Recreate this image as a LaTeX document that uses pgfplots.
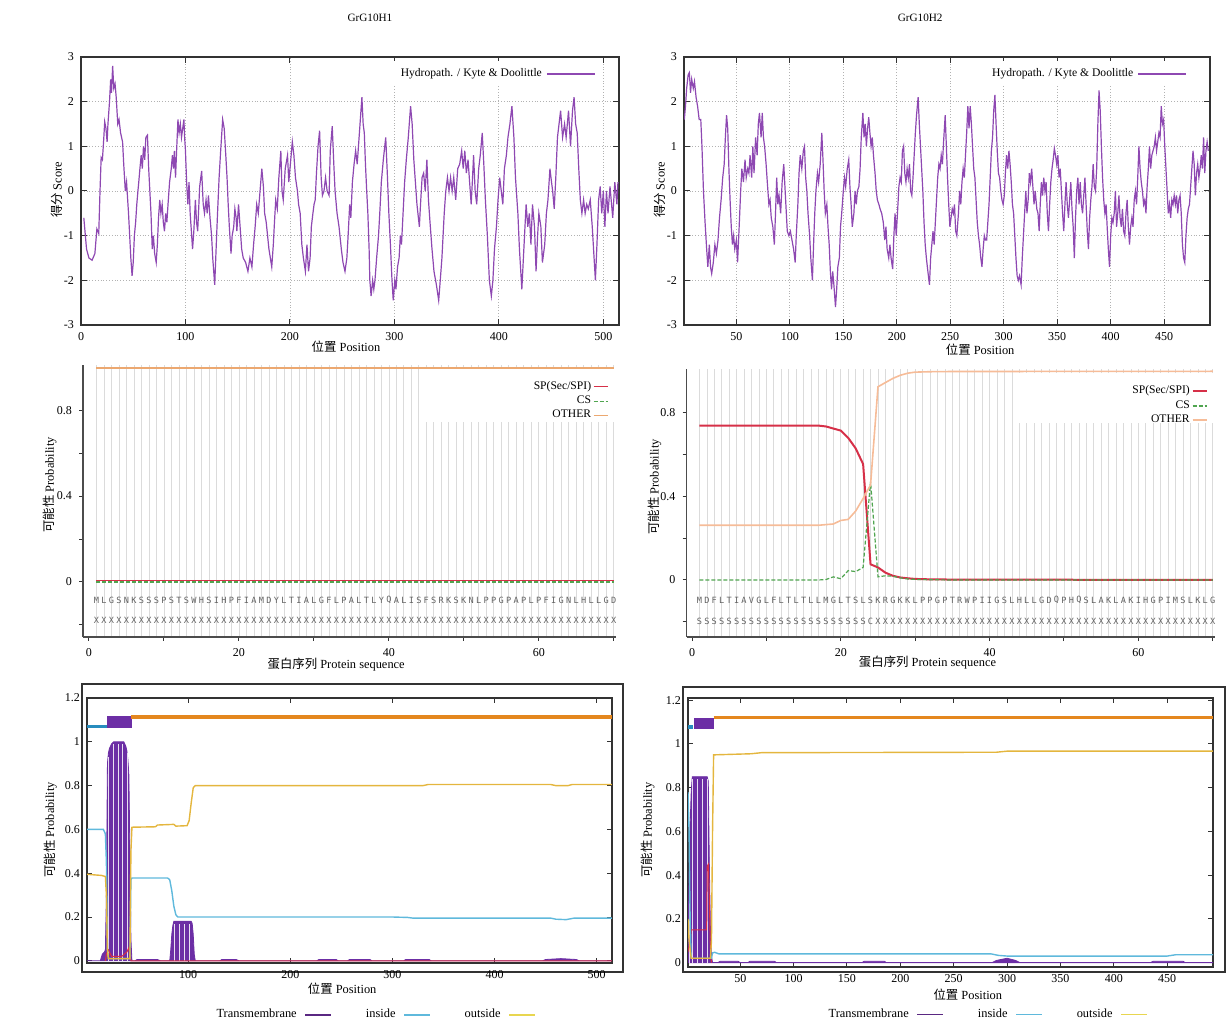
\documentclass[border=0pt]{standalone}
\usepackage{fontspec}
\setmainfont{Liberation Serif}
\newfontfamily\cjk{Noto Sans CJK SC}
\newfontfamily\seqfont{DejaVu Sans Mono}
\usepackage{pgfplots}
\usepackage{pgfplotstable}
\pgfplotsset{compat=1.18}
\definecolor{hydro}{RGB}{142,72,178}
\definecolor{spred}{RGB}{214,48,72}
\definecolor{csgreen}{RGB}{80,165,80}
\definecolor{otherL}{RGB}{236,168,112}
\definecolor{otherR}{RGB}{246,188,152}
\definecolor{tmfill}{RGB}{108,46,165}
\definecolor{tmleg}{RGB}{90,40,130}
\definecolor{incurve}{RGB}{95,185,220}
\definecolor{inbar}{RGB}{40,140,190}
\definecolor{outcurve}{RGB}{228,182,62}
\definecolor{outbar}{RGB}{228,135,30}
\definecolor{outleg}{RGB}{232,214,80}

\pgfplotstableread[row sep=\\]{x s r\\1 M X\\2 L X\\3 G X\\4 S X\\5 N X\\6 K X\\7 S X\\8 S X\\9 S X\\10 P X\\11 S X\\12 T X\\13 S X\\14 W X\\15 H X\\16 S X\\17 I X\\18 H X\\19 P X\\20 F X\\21 I X\\22 A X\\23 M X\\24 D X\\25 Y X\\26 L X\\27 T X\\28 I X\\29 A X\\30 L X\\31 G X\\32 F X\\33 L X\\34 P X\\35 A X\\36 L X\\37 T X\\38 L X\\39 Y X\\40 Q X\\41 A X\\42 L X\\43 I X\\44 S X\\45 F X\\46 S X\\47 R X\\48 K X\\49 S X\\50 K X\\51 N X\\52 L X\\53 P X\\54 P X\\55 G X\\56 P X\\57 A X\\58 P X\\59 L X\\60 P X\\61 F X\\62 I X\\63 G X\\64 N X\\65 L X\\66 H X\\67 L X\\68 L X\\69 G X\\70 D X\\}\seqL
\pgfplotstableread[row sep=\\]{x s r\\1 M S\\2 D S\\3 F S\\4 L S\\5 T S\\6 I S\\7 A S\\8 V S\\9 G S\\10 L S\\11 F S\\12 L S\\13 T S\\14 L S\\15 T S\\16 L S\\17 L S\\18 M S\\19 G S\\20 L S\\21 T S\\22 S S\\23 L S\\24 S C\\25 K X\\26 R X\\27 G X\\28 K X\\29 K X\\30 L X\\31 P X\\32 P X\\33 G X\\34 P X\\35 T X\\36 R X\\37 W X\\38 P X\\39 I X\\40 I X\\41 G X\\42 S X\\43 L X\\44 H X\\45 L X\\46 L X\\47 G X\\48 D X\\49 Q X\\50 P X\\51 H X\\52 Q X\\53 S X\\54 L X\\55 A X\\56 K X\\57 L X\\58 A X\\59 K X\\60 I X\\61 H X\\62 G X\\63 P X\\64 I X\\65 M X\\66 S X\\67 L X\\68 K X\\69 L X\\70 G X\\}\seqR

\pgfplotsset{
  base/.style={scale only axis, anchor=north west,
    /pgf/number format/assume math mode=true,
    tick label style={font=\fontsize{6}{7}\selectfont},
    label style={font=\fontsize{6.2}{7}\selectfont},
    axis line style={line width=0.7pt, black!80},
    every tick/.style={black!80, line width=0.5pt},
  },
  hydrop/.style={base, ymin=-3, ymax=3, ytick={-3,-2,-1,0,1,2,3},
    grid=major, grid style={densely dotted, gray!60, line width=0.4pt},
    major tick length=3pt,
    title style={anchor=center, font=\fontsize{5.6}{6}\selectfont},
    legend plot pos=right,
    legend image code/.code={\draw[#1, line width=0.9pt] (0pt,0pt) -- (24pt,0pt);},
    legend style={draw=none, fill=white, font=\fontsize{5.8}{7}\selectfont, anchor=north east, inner sep=1.5pt},
  },
  seqnodes/.style={only marks, mark=none, forget plot, nodes near coords, point meta=explicit symbolic,
    every node near coord/.style={font=\seqfont\fontsize{4.3}{4.5}\selectfont, text=black!62, anchor=center, inner sep=0pt}},
  signalp/.style={base, axis lines=left, axis line style={-, line width=0.6pt, black!70},
    tick align=outside, major tick length=2pt,
    xtick={0,10,20,30,40,50,60,70}, xticklabels={0,,20,,40,,60,},
    ytick={-0.2,0,0.2,0.4,0.6,0.8}, yticklabels={,0,,0.4,,0.8},
    minor xtick={1,2,...,70}, minor tick length=0pt,
    xminorgrids=true, minor grid style={gray!28, line width=0.35pt},
    legend plot pos=right, legend cell align=right,
    legend image code/.code={\draw[#1] (0pt,0pt) -- (7pt,0pt);},
    legend style={draw=none, fill=none, font=\fontsize{5.8}{6}\selectfont, anchor=north east, nodes={inner sep=0.9pt}},
  },
  tmhmm/.style={base, ytick={0,0.2,0.4,0.6,0.8,1,1.2}, major tick length=2.5pt,
    axis line style={line width=0.8pt, black!80},
    legend columns=3, legend plot pos=right,
    legend image code/.code={\draw[#1, line width=0.6pt] (0pt,0pt) -- (13pt,0pt);},
    legend style={draw=none, fill=none, anchor=center, font=\fontsize{6.2}{7}\selectfont,
      /tikz/every odd column/.append style={column sep=2pt},
      /tikz/every even column/.append style={column sep=15pt}},
  },
}

\begin{document}
\begin{tikzpicture}
\path[use as bounding box] (0pt,0pt) rectangle (614pt,-511pt);

% ---------- top left: hydropathy GrG10H1
\begin{axis}[hydrop, at={(40.5pt,-28.5pt)}, width=269pt, height=134pt,
  xmin=0, xmax=515, xtick={0,100,200,300,400,500},
  title={GrG10H1}, title style={at={(axis description cs:0.537,1)}, yshift=13.5pt},
  xlabel={{\cjk 位置} Position}, xlabel style={at={(axis description cs:0.4926,-0.08)}, anchor=center},
  ylabel={{\cjk 得分} Score}, ylabel style={at={(axis description cs:-0.0446,0.504)}, anchor=center},
  legend style={at={(axis description cs:0.963,0.985)}}]
\addplot[hydro, line width=0.6pt] coordinates {(2.7,-0.6)(5.3,-1.3)(7.6,-1.5)(10.6,-1.55)(13.3,-1.4)(15.2,-0.85)(17.0,-0.95)(18.2,0.0)(19.3,0.75)(20.5,0.7)(21.6,1.1)(22.7,1.55)(23.9,1.4)(25.0,1.1)(25.8,1.5)(27.3,2.0)(28.4,2.5)(29.2,2.2)(30.3,2.8)(31.4,2.3)(32.6,2.4)(33.7,2.1)(35.2,1.5)(36.4,1.6)(37.9,1.3)(39.8,1.1)(40.9,0.6)(42.4,0.0)(43.6,0.2)(45.5,-0.5)(46.6,-1.0)(47.7,-1.5)(48.9,-1.9)(50.0,-1.6)(51.1,-1.0)(52.3,-0.7)(53.4,-0.3)(54.5,0.0)(55.3,0.2)(56.4,0.5)(57.6,0.8)(58.7,0.5)(59.8,1.0)(61.0,0.7)(62.1,1.2)(63.6,1.25)(64.8,0.5)(65.9,0.0)(67.0,-0.5)(68.2,-1.3)(69.3,-1.0)(70.5,-1.4)(72.0,-1.6)(73.1,-1.2)(74.2,-0.6)(75.4,-0.2)(76.5,-0.5)(77.7,-0.3)(78.8,-0.7)(79.9,-0.9)(81.1,-0.5)(82.2,-0.7)(83.3,-0.3)(84.8,0.2)(86.4,0.5)(87.5,0.8)(88.6,0.5)(89.4,0.9)(90.5,0.3)(91.7,1.0)(92.8,1.6)(93.9,1.3)(95.1,1.5)(96.2,1.2)(98.5,1.6)(99.2,1.2)(100.0,0.9)(101.1,0.2)(102.3,-0.3)(103.4,0.2)(104.5,-0.5)(106.8,-1.3)(108.0,-0.9)(109.5,-0.2)(110.6,-0.7)(111.7,-0.9)(113.6,0.1)(115.5,0.45)(117.0,-0.3)(118.2,-0.5)(119.7,-0.2)(120.8,-0.5)(122.0,-0.1)(123.5,-0.6)(125.0,-1.0)(126.1,-1.5)(128.0,-2.1)(129.5,-1.2)(130.7,-0.5)(132.2,0.3)(133.7,0.9)(135.6,1.6)(137.1,1.4)(138.6,0.8)(139.8,0.3)(140.9,-0.3)(142.0,-0.8)(143.6,-1.4)(144.7,-1.0)(146.2,-0.8)(147.3,-0.4)(148.5,-0.6)(149.2,-0.9)(150.8,-0.3)(152.3,-0.8)(153.8,-1.3)(155.3,-1.5)(157.6,-1.6)(159.8,-1.8)(161.7,-1.5)(163.6,-1.7)(165.2,-1.2)(166.7,-0.8)(168.2,-0.3)(169.7,-0.5)(173.1,0.5)(174.6,0.1)(175.8,-0.5)(177.3,-0.7)(179.9,-1.3)(182.6,-1.7)(184.1,-1.2)(185.2,-0.7)(186.4,-0.2)(187.9,-0.4)(189.4,0.3)(191.3,0.9)(192.4,0.0)(193.6,-0.2)(195.5,0.5)(197.7,0.8)(198.9,0.2)(202.3,1.1)(203.8,0.8)(205.3,0.3)(207.2,0.0)(208.3,-0.3)(209.8,-0.5)(211.4,-1.2)(212.9,-1.5)(214.8,-1.8)(216.3,-1.2)(217.8,-1.8)(219.3,-1.5)(220.5,-0.8)(222.0,-0.5)(223.1,-0.3)(224.2,-0.2)(225.4,0.4)(226.9,1.0)(228.4,1.35)(229.9,0.3)(231.1,-0.1)(232.6,0.0)(234.1,0.3)(235.6,0.0)(237.5,-0.1)(238.6,0.9)(240.5,1.45)(242.0,0.6)(243.2,0.0)(245.1,-0.5)(247.0,-0.8)(249.2,-1.3)(250.8,-1.6)(252.7,-1.8)(254.5,-1.5)(255.7,-1.0)(257.2,-0.3)(258.3,-0.6)(259.8,0.2)(261.4,0.6)(262.9,0.9)(264.4,0.6)(265.9,1.1)(267.4,1.6)(268.9,2.1)(270.1,1.5)(271.2,1.3)(272.3,0.6)(273.5,0.0)(274.6,-0.5)(275.8,-1.3)(276.5,-2.0)(277.7,-2.35)(279.2,-2.0)(280.3,-2.2)(281.4,-2.0)(283.0,-1.5)(284.8,-1.0)(286.0,-0.5)(287.5,0.2)(289.4,0.7)(291.7,1.2)(293.2,0.4)(294.7,-0.5)(296.2,-1.2)(297.7,-2.0)(298.9,-2.45)(300.4,-2.0)(301.5,-2.2)(303.0,-1.7)(304.5,-1.5)(305.7,-1.0)(306.8,-1.2)(308.3,-0.5)(309.8,0.2)(311.4,0.7)(313.3,1.2)(315.5,1.9)(317.0,1.5)(318.6,0.7)(320.1,0.2)(321.6,-0.3)(323.9,-0.8)(325.0,-0.3)(326.5,0.3)(328.0,0.4)(329.5,0.0)(331.1,0.7)(332.6,-0.2)(334.1,-0.7)(336.0,-1.3)(337.9,-1.8)(340.2,-2.1)(342.4,-2.45)(343.9,-2.0)(345.5,-1.5)(346.6,-1.0)(347.7,-0.5)(349.2,0.0)(350.8,0.3)(352.3,0.0)(353.8,0.3)(355.3,0.0)(356.8,0.3)(358.7,-0.2)(360.6,0.5)(362.5,0.6)(364.4,0.9)(365.9,0.5)(367.4,0.9)(368.9,0.4)(370.5,0.7)(372.0,0.2)(373.5,-0.3)(374.6,0.2)(375.8,0.8)(377.3,0.0)(378.8,-0.3)(380.7,0.5)(382.2,0.8)(384.1,1.3)(385.6,0.6)(387.1,-0.2)(389.0,-1.0)(390.9,-2.0)(392.8,-2.35)(394.3,-2.0)(395.8,-1.3)(397.7,-0.8)(399.2,-0.2)(400.8,0.3)(402.3,0.0)(403.8,-0.3)(405.3,0.5)(407.2,0.8)(408.7,1.2)(410.6,1.5)(412.5,1.9)(414.4,1.2)(415.9,0.3)(418.2,-0.5)(419.7,-1.3)(422.0,-2.2)(423.5,-1.5)(425.0,-0.8)(426.1,-0.3)(427.7,-0.8)(429.2,-0.5)(430.7,-1.2)(432.2,-0.3)(434.1,-0.8)(435.6,-1.8)(437.1,-1.0)(438.3,-0.5)(440.2,-0.8)(441.7,-1.6)(443.9,-1.2)(445.5,-0.5)(447.0,-0.2)(448.9,0.5)(450.4,0.2)(451.5,0.0)(453.0,-0.4)(454.5,0.3)(456.1,1.2)(459.1,1.8)(461.0,1.2)(462.9,1.5)(464.4,1.2)(466.7,1.8)(468.6,1.0)(470.5,1.8)(472.0,2.1)(473.5,1.5)(475.0,1.3)(476.5,0.5)(478.0,-0.2)(479.5,-0.5)(481.1,-0.2)(482.6,-0.5)(484.1,-0.3)(485.6,-0.4)(487.5,-0.2)(489.4,-0.8)(492.4,-2.0)(493.9,-1.2)(495.5,-0.2)(497.0,0.1)(498.5,-0.5)(500.0,0.0)(501.5,-0.8)(503.0,0.0)(504.5,-0.5)(506.4,0.1)(509,-0.6)(511,0.2)(513,-0.3)(514,0.2)};
\addlegendentry{Hydropath. / Kyte \& Doolittle}
\end{axis}

% ---------- top right: hydropathy GrG10H2
\begin{axis}[hydrop, at={(342pt,-28.5pt)}, width=263pt, height=134pt,
  xmin=1, xmax=493, xtick={50,100,150,200,250,300,350,400,450},
  title={GrG10H2}, title style={at={(axis description cs:0.449,1)}, yshift=13.5pt},
  xlabel={{\cjk 位置} Position}, xlabel style={at={(axis description cs:0.563,-0.093)}, anchor=center},
  ylabel={{\cjk 得分} Score}, ylabel style={at={(axis description cs:-0.0456,0.504)}, anchor=center},
  legend style={at={(axis description cs:0.963,0.985)}}]
\addplot[hydro, line width=0.6pt] coordinates {(1.3,1.6)(2.4,1.9)(3.5,2.3)(4.9,2.6)(6.0,2.65)(7.1,2.2)(8.2,2.5)(9.7,2.3)(10.8,2.45)(12.3,2.1)(13.7,1.9)(15.2,1.6)(16.7,1.6)(17.8,1.0)(19.2,0.0)(20.7,-0.7)(22.2,-1.3)(23.3,-1.7)(24.7,-1.2)(25.8,-1.7)(26.9,-1.85)(28.4,-1.6)(29.9,-1.2)(31.3,-1.4)(32.8,-1.1)(34.2,-0.6)(35.7,-0.2)(37.2,0.3)(38.6,0.6)(39.7,1.2)(40.8,1.7)(41.9,1.4)(43.0,0.5)(44.1,-0.2)(45.2,-0.8)(46.3,-1.2)(47.4,-1.0)(48.5,-1.3)(50.0,-1.1)(51.1,-1.6)(52.6,-0.8)(54.0,0.0)(55.1,0.5)(56.6,0.2)(58.1,0.7)(59.2,0.3)(60.6,0.5)(61.7,0.4)(62.8,0.8)(64.3,0.3)(65.4,1.0)(66.5,0.4)(68.0,1.2)(69.4,0.8)(70.5,1.5)(71.6,1.75)(73.1,1.2)(74.2,1.75)(75.3,1.2)(76.4,1.0)(77.8,0.6)(78.9,0.2)(80.4,-0.3)(81.5,-0.2)(82.6,-0.6)(84.1,-0.8)(85.5,-1.2)(86.6,-0.5)(87.7,0.3)(88.8,-0.3)(89.9,-0.1)(91.4,-0.5)(92.8,0.2)(94.3,0.6)(95.4,0.1)(96.5,-0.4)(97.6,-0.9)(99.1,-1.0)(100.5,-0.9)(102.0,-1.1)(103.5,-1.3)(105.0,-1.6)(106.0,-1.0)(107.5,-0.3)(108.6,0.4)(109.7,0.8)(111.2,0.5)(112.6,0.9)(113.7,1.0)(114.8,0.3)(115.9,0.0)(117.0,-0.5)(118.5,-1.0)(119.6,-1.5)(121.1,-2.0)(122.2,-1.2)(123.3,-0.5)(124.4,0.0)(125.8,0.4)(126.9,0.2)(128.4,0.6)(129.9,1.3)(131.0,0.7)(132.1,0.0)(133.2,-0.5)(134.6,-0.3)(135.7,-0.8)(136.8,-1.2)(137.9,-1.8)(139.0,-2.2)(140.1,-1.8)(141.2,-2.1)(142.7,-2.6)(143.8,-2.2)(144.9,-1.7)(146.3,-1.5)(147.4,-0.8)(148.5,-0.5)(150.0,0.0)(151.1,0.3)(152.2,0.1)(153.7,0.5)(155.1,0.7)(156.2,0.1)(157.3,-0.3)(158.4,-0.8)(159.9,-0.5)(161.0,0.0)(162.1,-0.3)(163.2,0.0)(164.6,0.1)(165.7,0.5)(166.8,1.2)(168.3,1.75)(169.4,1.2)(170.5,1.5)(171.6,1.0)(172.7,1.4)(173.8,1.65)(174.9,1.3)(176.0,1.0)(177.1,1.2)(178.2,0.8)(179.7,0.4)(180.8,0.0)(181.9,-0.2)(183.3,-0.3)(184.4,-0.4)(185.9,-0.5)(187.4,-0.7)(188.8,-1.1)(189.9,-0.8)(191.0,-1.3)(192.5,-1.5)(193.6,-1.2)(194.7,-1.5)(196.2,-1.75)(197.3,-1.0)(198.4,-0.5)(199.5,-1.0)(200.9,-0.4)(202.0,0.1)(203.1,0.3)(204.2,0.2)(205.3,0.9)(206.4,1.0)(207.5,0.4)(208.6,0.2)(209.7,0.5)(210.8,0.3)(211.9,0.6)(213.0,0.0)(214.1,-0.1)(215.2,0.3)(216.3,0.8)(217.4,1.3)(218.5,1.7)(220.0,2.1)(221.1,1.5)(222.2,1.0)(223.3,0.5)(224.4,0.0)(225.5,-0.7)(226.6,-1.2)(227.7,-1.5)(229.1,-1.8)(230.6,-2.1)(231.7,-1.5)(232.8,-1.2)(233.9,-0.9)(235.0,-1.2)(236.1,-0.7)(237.2,-0.2)(238.3,0.3)(239.4,0.6)(240.5,0.5)(241.6,0.8)(242.7,0.6)(243.8,1.1)(245.3,1.7)(246.4,1.0)(247.5,0.3)(248.6,-0.3)(249.7,-0.8)(250.8,-0.6)(251.9,-0.4)(253.0,-0.5)(254.0,-0.3)(255.1,-0.9)(256.2,-1.0)(257.7,-0.5)(258.8,0.0)(259.9,-0.3)(261.0,0.2)(262.1,0.5)(263.2,0.3)(264.3,0.8)(265.4,1.3)(266.5,1.9)(267.6,1.4)(268.7,1.9)(269.8,1.5)(270.9,1.0)(272.0,0.5)(273.1,0.3)(274.2,-0.2)(275.3,-0.7)(276.4,-1.0)(277.5,-1.2)(278.6,-1.5)(279.7,-1.7)(280.8,-1.3)(281.9,-1.0)(283.0,-1.1)(284.1,-1.1)(285.2,-0.7)(286.3,-0.3)(287.4,0.3)(288.5,0.9)(289.6,1.2)(290.7,1.8)(291.8,2.15)(292.9,1.5)(294.0,0.9)(295.1,0.4)(296.2,0.3)(297.3,0.0)(298.4,-0.2)(299.5,-0.3)(300.6,-0.1)(301.6,0.4)(302.7,0.8)(303.8,0.5)(304.9,0.9)(306.0,0.6)(307.1,0.2)(308.2,-0.3)(309.3,-0.5)(310.4,-1.0)(311.5,-1.5)(312.6,-1.9)(313.7,-2.0)(314.8,-1.9)(316.3,-2.1)(317.4,-1.5)(318.5,-1.0)(319.6,-0.5)(320.7,0.0)(321.8,-0.5)(322.9,-0.2)(324.0,0.4)(325.1,0.2)(326.2,0.5)(327.3,0.1)(328.4,-0.3)(329.5,0.0)(331.0,-0.4)(332.1,-0.5)(333.2,-0.9)(334.2,-0.3)(335.3,0.2)(336.4,-0.1)(337.5,0.3)(338.6,0.0)(339.7,0.2)(340.8,-0.5)(341.9,-0.9)(343.0,-0.3)(344.1,0.2)(345.2,0.5)(346.3,0.7)(347.4,0.95)(348.5,0.8)(349.6,0.6)(350.7,0.8)(351.8,0.3)(352.9,0.5)(354.0,0.0)(355.1,-0.5)(356.2,-0.9)(357.3,-0.3)(358.4,0.2)(359.5,-0.3)(360.6,-0.6)(361.7,-0.2)(362.8,0.2)(363.9,-0.4)(365.0,-0.8)(366.1,-1.5)(367.2,-0.6)(368.3,0.0)(369.4,0.3)(370.5,-0.3)(371.6,0.2)(372.7,-0.3)(373.8,-0.5)(374.9,-0.1)(376.0,0.3)(377.1,-0.3)(378.2,-0.9)(379.3,-1.3)(380.4,-0.6)(381.5,-0.2)(382.6,0.1)(383.7,0.6)(384.8,0.1)(385.9,0.0)(387.0,0.5)(388.1,1.5)(389.2,2.25)(390.3,1.8)(391.4,1.0)(392.5,0.3)(393.6,-0.2)(394.7,-0.5)(395.8,-0.3)(396.8,-0.8)(397.9,-1.3)(399.0,-1.7)(400.1,-1.0)(401.2,-0.6)(402.3,-0.7)(403.4,-0.5)(404.5,0.0)(405.6,-0.8)(406.7,-0.5)(407.8,-0.1)(408.9,-0.6)(410.0,-0.8)(411.1,-0.4)(412.2,-0.9)(413.3,-1.0)(414.4,-0.5)(415.5,-0.2)(416.6,-0.8)(417.7,-1.2)(418.8,-0.8)(419.9,-0.6)(421.0,-0.8)(422.1,-0.2)(423.2,0.0)(424.3,-0.3)(425.4,0.3)(426.5,1.0)(427.6,0.5)(428.7,0.2)(429.8,0.0)(430.9,-0.3)(432.0,-0.2)(433.1,-0.5)(434.2,0.1)(435.3,0.5)(436.4,1.0)(437.5,0.5)(438.6,0.8)(439.7,0.9)(440.8,1.0)(441.9,1.2)(443.0,0.9)(444.1,1.1)(445.2,1.3)(446.3,1.2)(447.4,1.9)(448.5,1.5)(449.6,1.6)(450.7,1.0)(451.8,0.5)(452.9,0.0)(454.0,-0.5)(455.1,-0.3)(456.2,-0.6)(457.3,-0.2)(458.4,-0.3)(459.5,-0.1)(460.6,-0.3)(461.7,-0.1)(462.8,-0.5)(463.9,-0.2)(465.0,-0.1)(466.1,-0.5)(467.2,-1.2)(468.3,-1.5)(469.4,-1.6)(470.5,-1.0)(471.6,-0.6)(472.7,-0.4)(473.8,-0.3)(474.9,0.1)(476.0,0.5)(477.1,0.9)(478.2,0.6)(479.3,-0.1)(480.4,0.4)(481.5,0.6)(482.6,0.3)(483.7,0.5)(484.8,0.8)(485.9,0.5)(487.0,1.2)(488.1,0.4)(489.2,0.9)(490.3,1.1)(491.4,0.9)};
\addlegendentry{Hydropath. / Kyte \& Doolittle}
\end{axis}

% ---------- middle left: SignalP GrG10H1
\begin{axis}[signalp, at={(41.5pt,-182.5pt)}, width=266.5pt, height=136pt,
  xmin=-0.8, xmax=70.3, ymin=-0.256, ymax=1.01,
  xlabel={{\cjk 蛋白序列} Protein sequence}, xlabel style={at={(axis description cs:0.475,-0.103)}, anchor=center},
  ylabel={{\cjk 可能性} Probability}, ylabel style={at={(axis description cs:-0.062,0.559)}, anchor=center},
  legend style={at={(axis description cs:0.998,0.963)}}]
\fill[white] (axis cs:44.6,0.745) rectangle (axis cs:70.3,0.99);
\addplot[spred, line width=0.6pt] coordinates {(1,0.007)(70,0.007)};
\addlegendentry{SP(Sec/SPI)}
\addplot[csgreen, dash pattern=on 2pt off 1pt, line width=0.6pt] coordinates {(1,0.0)(70,0.0)};
\addlegendentry{CS}
\addplot[otherL, line width=0.8pt] coordinates {(1,0.997)(70,0.997)};
\addlegendentry{OTHER}
\addplot[seqnodes] table[x=x, y expr=-0.084, meta=s] {\seqL};
\addplot[seqnodes] table[x=x, y expr=-0.18, meta=r] {\seqL};
\end{axis}

% ---------- middle right: SignalP GrG10H2
\begin{axis}[signalp, at={(343.25pt,-184.5pt)}, width=264.25pt, height=134pt,
  xmin=-0.74, xmax=70.3, ymin=-0.273, ymax=1.01,
  xlabel={{\cjk 蛋白序列} Protein sequence}, xlabel style={at={(axis description cs:0.456,-0.097)}, anchor=center},
  ylabel={{\cjk 可能性} Probability}, ylabel style={at={(axis description cs:-0.06,0.56)}, anchor=center},
  legend style={at={(axis description cs:0.998,0.96)}}]
\fill[white] (axis cs:44.0,0.752) rectangle (axis cs:70.3,0.99);
\addplot[spred, line width=1pt] coordinates {(1,0.739)(17,0.739)(18,0.735)(19,0.725)(20,0.715)(21,0.68)(22,0.63)(23,0.555)(24,0.075)(25,0.06)(26,0.035)(27,0.02)(28,0.012)(29,0.008)(30,0.005)(32,0.003)(35,0.002)(70,0.0)};
\addlegendentry{SP(Sec/SPI)}
\addplot[csgreen, dash pattern=on 2pt off 1pt, line width=0.6pt] coordinates {(1,0.0)(17,0.0)(18,0.002)(19,0.015)(20,0.006)(21,0.045)(22,0.04)(23,0.06)(24,0.47)(25,0.015)(26,0.02)(27,0.018)(28,0.01)(29,0.005)(30,0.003)(32,0.001)(35,0.0)(70,0.0)};
\addlegendentry{CS}
\addplot[otherR, line width=0.8pt] coordinates {(1,0.262)(17,0.262)(18,0.265)(19,0.268)(20,0.285)(21,0.29)(22,0.33)(23,0.39)(24,0.455)(25,0.925)(26,0.945)(27,0.965)(28,0.98)(29,0.99)(30,0.995)(32,0.997)(35,0.998)(70,0.999)};
\addlegendentry{OTHER}
\addplot[seqnodes] table[x=x, y expr=-0.096, meta=s] {\seqR};
\addplot[seqnodes] table[x=x, y expr=-0.196, meta=r] {\seqR};
\end{axis}

% ---------- bottom left: TM GrG10H1
\draw[black!80, line width=0.7pt] (41pt,-342pt) rectangle (311.5pt,-486pt);
\begin{axis}[tmhmm, at={(43.5pt,-349pt)}, width=262.5pt, height=132.5pt,
  xmin=1, xmax=515, ymin=-0.01, ymax=1.2, xtick={100,200,300,400,500},
  xlabel={{\cjk 位置} Position}, xlabel style={at={(axis description cs:0.486,-0.098)}, anchor=center},
  ylabel={{\cjk 可能性} Probability}, ylabel style={at={(axis description cs:-0.07,0.502)}, anchor=center},
  legend style={at={(axis description cs:0.547,-0.196)}}]
\addplot[fill=tmfill, draw=tmfill, line width=0.4pt, forget plot] coordinates {(1,0)(14,0)(16,0.03)(18,0.04)(19,0.05)(20,0.3)(21,0.9)(22,0.95)(23,0.97)(25,0.99)(27,1.0)(37,1.0)(39,0.98)(40,0.96)(41,0.92)(42,0.85)(43,0.5)(44,0.1)(45,0)(48,0)(50,0.006)(70,0.006)(73,0)(82,0)(83,0.05)(84,0.12)(85,0.16)(86,0.18)(103,0.18)(104,0.17)(105,0.12)(106,0.03)(107,0)(131,0)(133,0.006)(147,0.006)(150,0)(226,0)(228,0.006)(245,0.006)(247,0)(256,0)(258,0.006)(278,0.006)(280,0)(311,0)(313,0.006)(336,0.006)(338,0)(447,0)(450,0.006)(465,0.01)(480,0.006)(483,0)(515,0)} \closedcycle;
\addplot[ycomb, white!85!tmfill, line width=0.5pt, forget plot] coordinates {(21.9,0.93)(26.6,0.99)(31.5,0.99)(36.1,0.99)(40.7,0.95)(86.5,0.17)(91.4,0.17)(96.3,0.17)(101.2,0.17)};
\addplot[spred, line width=0.5pt, forget plot] coordinates {(19,0)(20,0.03)(22,0.05)(25,0.02)(35,0.02)(40,0.04)(42,0.06)(44,0)(515,0)};
\addplot[incurve, line width=0.7pt, forget plot] coordinates {(1,0.60)(17,0.60)(19,0.58)(20,0.45)(21,0.05)(22,0.01)(43,0.01)(44,0.37)(45,0.378)(80,0.378)(82,0.37)(84,0.32)(86,0.25)(88,0.21)(90,0.2)(200,0.2)(300,0.2)(315,0.198)(320,0.195)(455,0.195)(460,0.19)(470,0.188)(478,0.195)(515,0.195)};
\addplot[outcurve, line width=0.7pt, forget plot] coordinates {(1,0.395)(15,0.39)(19,0.385)(20,0.3)(21,0.05)(22,0.01)(43,0.01)(44,0.5)(45,0.61)(68,0.612)(70,0.62)(86,0.623)(88,0.615)(99,0.617)(101,0.64)(103,0.72)(105,0.79)(107,0.80)(330,0.80)(335,0.805)(455,0.805)(460,0.80)(472,0.80)(476,0.805)(515,0.805)};
\addplot[inbar, line width=1.7pt, forget plot] coordinates {(1,1.07)(21,1.07)};
\addplot[fill=tmfill, draw=tmfill, forget plot] coordinates {(21,1.066)(44,1.066)(44,1.114)(21,1.114)(21,1.066)};
\addplot[outbar, line width=1.8pt, forget plot] coordinates {(44,1.112)(515,1.112)};
\addlegendimage{tmleg}\addlegendentry{Transmembrane}
\addlegendimage{incurve}\addlegendentry{inside}
\addlegendimage{outleg}\addlegendentry{outside}
\end{axis}

% ---------- bottom right: TM GrG10H2
\draw[black!80, line width=0.7pt] (341.5pt,-343.5pt) rectangle (612.5pt,-486pt);
\begin{axis}[tmhmm, at={(344pt,-349pt)}, width=262.5pt, height=134.5pt,
  xmin=1, xmax=493, ymin=-0.02, ymax=1.21, xtick={50,100,150,200,250,300,350,400,450},
  xlabel={{\cjk 位置} Position}, xlabel style={at={(axis description cs:0.533,-0.104)}, anchor=center},
  ylabel={{\cjk 可能性} Probability}, ylabel style={at={(axis description cs:-0.076,0.509)}, anchor=center},
  legend style={at={(axis description cs:0.568,-0.178)}}]
\addplot[fill=tmfill, draw=tmfill, line width=0.4pt, forget plot] coordinates {(1,0.1)(2,0.4)(3,0.63)(4,0.78)(5,0.85)(19,0.85)(20,0.83)(21,0.45)(22,0.15)(23,0.03)(24,0)(29,0)(31,0.006)(48,0.006)(50,0)(57,0)(59,0.006)(82,0.006)(84,0)(164,0)(166,0.006)(185,0.006)(187,0)(286,0)(290,0.01)(300,0.02)(308,0.01)(312,0)(434,0)(437,0.006)(465,0.006)(467,0)(493,0)} \closedcycle;
\addplot[ycomb, white!85!tmfill, line width=0.5pt, forget plot] coordinates {(2,0.38)(5.5,0.84)(10,0.84)(14.5,0.84)(19,0.84)};
\addplot[spred, line width=0.5pt, forget plot] coordinates {(1,0.05)(3,0.1)(4,0.15)(18.5,0.15)(19,0.44)(20,0.45)(21,0.3)(22,0.05)(23,0)};
\addplot[incurve, line width=0.7pt, forget plot] coordinates {(1,0.78)(2,0.6)(3,0.2)(4,0.02)(23,0.02)(24,0.045)(26,0.047)(30,0.04)(285,0.04)(292,0.033)(300,0.03)(450,0.03)(458,0.036)(493,0.036)};
\addplot[outcurve, line width=0.7pt, forget plot] coordinates {(1,0.2)(2,0.1)(4,0.02)(22,0.02)(23,0.1)(24,0.6)(25,0.95)(60,0.955)(70,0.96)(290,0.962)(300,0.967)(493,0.967)};
\addplot[inbar, line width=1.7pt, forget plot] coordinates {(1,1.077)(6,1.077)};
\addplot[fill=tmfill, draw=tmfill, forget plot] coordinates {(7,1.071)(25,1.071)(25,1.117)(7,1.117)(7,1.071)};
\addplot[outbar, line width=1.8pt, forget plot] coordinates {(25,1.12)(493,1.12)};
\addlegendimage{tmleg}\addlegendentry{Transmembrane}
\addlegendimage{incurve}\addlegendentry{inside}
\addlegendimage{outleg}\addlegendentry{outside}
\end{axis}
\end{tikzpicture}
\end{document}
